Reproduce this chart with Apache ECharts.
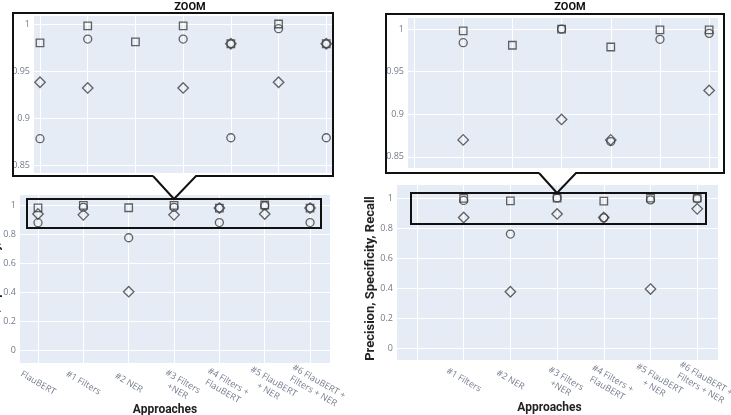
<!DOCTYPE html>
<html>
<head>
<meta charset="utf-8">
<script src="https://cdn.jsdelivr.net/npm/echarts@6/dist/echarts.min.js"></script>
<style>html,body{margin:0;padding:0;background:#fff}#chart{width:731px;height:415px}</style>
</head>
<body>
<div id="chart"></div>
<script>
// ---- data ----
const leftCategories = ['FlauBERT', '#1 Filters', '#2 NER', '#3 Filters\n+NER', '#4 Filters +\nFlauBERT', '#5 FlauBERT\n+ NER', '#6 FlauBERT +\nFilters + NER'];
const rightCategories = ['', '#1 Filters', '#2 NER', '#3 Filters\n+NER', '#4 Filters +\nFlauBERT', '#5 FlauBERT\n+ NER', '#6 FlauBERT +\nFilters + NER'];

const leftSquare  = [0.980, 0.998, 0.981, 0.998, 0.979, 1.000, 0.979];
const leftCircle  = [0.878, 0.984, 0.774, 0.984, 0.879, 0.995, 0.879];
const leftDiamond = [0.938, 0.932, 0.402, 0.932, 0.979, 0.938, 0.979];

const rightSquare  = [null, 0.998, 0.981, 1.000, 0.979, 0.999, 0.999];
const rightCircle  = [null, 0.984, 0.760, 1.000, 0.868, 0.988, 0.995];
const rightDiamond = [null, 0.870, 0.375, 0.894, 0.870, 0.393, 0.928];

const mainYTicks = [0, 0.2, 0.4, 0.6, 0.8, 1];
const zoomYTicks = [0.85, 0.9, 0.95, 1];
const xTickPositions = [0, 1, 2, 3, 4, 5, 6];

const yTitle = 'Precision, Specificity, Recall';
const xTitle = 'Approaches';
const zoomTitle = 'ZOOM';

// ---- styling ----
const TICK_COLOR = '#737b8c';
const BG = '#E5ECF6';
const MARK = '#3d3d3d';

function toPoints(values) {
  return values.map((v, i) => v == null ? null : [i, v]).filter(p => p);
}

function yAxis(gridIndex, min, max, ticks, showName, nameGap) {
  return {
    type: 'value', gridIndex, min, max,
    name: showName ? yTitle : '',
    nameLocation: 'middle', nameGap: nameGap || 20, nameRotate: 90, nameMoveOverlap: false,
    nameTextStyle: { fontFamily: 'Roboto', fontWeight: 'bold', fontSize: 13, color: '#222', padding: [0, 12, 0, 0] },
    axisLine: { show: false },
    axisTick: { show: false, customValues: ticks },
    axisLabel: {
      customValues: ticks, color: TICK_COLOR, fontSize: 9, fontFamily: 'Open Sans', margin: 4,
      formatter: v => String(+(+v).toFixed(2))
    },
    splitLine: { show: true, lineStyle: { color: '#fff', width: 1 } }
  };
}

function xAxis(gridIndex, min, max, cats, showLabels, namePad, nameGap) {
  return {
    type: 'value', gridIndex, min, max,
    name: showLabels ? xTitle : '',
    nameLocation: 'middle', nameGap: nameGap || 40, nameMoveOverlap: false,
    nameTextStyle: { fontFamily: 'Roboto', fontWeight: 'bold', fontSize: 12, color: '#222', padding: [0, namePad || 0, 0, 0] },
    axisLine: { show: false },
    axisTick: { show: false, customValues: xTickPositions },
    axisLabel: {
      show: showLabels, customValues: xTickPositions,
      color: TICK_COLOR, fontSize: 9, fontFamily: 'Open Sans', rotate: -30,
      align: 'center', verticalAlign: 'middle', margin: 20, lineHeight: 11,
      formatter: v => {
        const t = cats[Math.round(v)] || '';
        if (t.indexOf('\n') < 0) return t;
        return t.split('\n').map(s => '{m|' + s + '}').join('\n');
      },
      rich: { m: { color: TICK_COLOR, fontSize: 9, fontFamily: 'Open Sans', lineHeight: 11, padding: [0, 0, 0, 14] } }
    },
    splitLine: { show: true, lineStyle: { color: '#fff', width: 1 } }
  };
}

function scatterSet(xi, yi, sq, ci, di) {
  const common = {
    type: 'scatter', xAxisIndex: xi, yAxisIndex: yi, silent: true,
    emphasis: { disabled: true }, animation: false
  };
  const st = { color: 'rgba(0,0,0,0)', borderColor: MARK, borderWidth: 1.3 };
  return [
    Object.assign({}, common, { name: 'Square', symbol: 'rect', symbolSize: 7.5, itemStyle: st, data: toPoints(sq) }),
    Object.assign({}, common, { name: 'Circle', symbol: 'circle', symbolSize: 8, itemStyle: st, data: toPoints(ci) }),
    Object.assign({}, common, { name: 'Diamond', symbol: 'diamond', symbolSize: 10.5, itemStyle: st, data: toPoints(di) })
  ];
}

const gridBase = { show: true, backgroundColor: BG, borderWidth: 0, containLabel: false, outerBoundsMode: 'none' };

const option = {
  animation: false,
  backgroundColor: '#fff',
  title: [
    { text: zoomTitle, left: 185, top: -3, textAlign: 'center', textStyle: { fontFamily: 'Roboto', fontWeight: 'bold', fontSize: 11, color: '#111' } },
    { text: zoomTitle, left: 565, top: -3, textAlign: 'center', textStyle: { fontFamily: 'Roboto', fontWeight: 'bold', fontSize: 11, color: '#111' } }
  ],
  grid: [
    Object.assign({ left: 20, top: 195, width: 310, height: 168 }, gridBase),
    Object.assign({ left: 34, top: 16, width: 298, height: 157 }, gridBase),
    Object.assign({ left: 397, top: 185, width: 321, height: 175 }, gridBase),
    Object.assign({ left: 408, top: 18, width: 310, height: 150 }, gridBase)
  ],
  xAxis: [
    xAxis(0, -0.397, 6.44, leftCategories, true, 20, 41),
    xAxis(1, -0.126, 6.12, leftCategories, false),
    xAxis(2, -0.428, 6.445, rightCategories, true, 16, 42),
    xAxis(3, -0.122, 6.18, rightCategories, false)
  ],
  yAxis: [
    yAxis(0, -0.09, 1.069, mainYTicks, true, 18),
    yAxis(1, 0.8415, 1.0085, zoomYTicks, false),
    yAxis(2, -0.08, 1.087, mainYTicks, true, 20),
    yAxis(3, 0.837, 1.013, zoomYTicks, false)
  ],
  series: [].concat(
    scatterSet(0, 0, leftSquare, leftCircle, leftDiamond),
    scatterSet(1, 1, leftSquare, leftCircle, leftDiamond),
    scatterSet(2, 2, rightSquare, rightCircle, rightDiamond),
    scatterSet(3, 3, rightSquare, rightCircle, rightDiamond)
  ),
  graphic: [
    { type: 'polyline', z: 100, silent: true,
      shape: { points: [[153,176],[13,176],[13,13],[333,13],[333,176],[196,176],[174,199],[153,176]] },
      style: { stroke: '#111', lineWidth: 2, fill: null } },
    { type: 'rect', z: 100, silent: true, shape: { x: 27, y: 199, width: 294, height: 29 },
      style: { stroke: '#111', lineWidth: 2, fill: null } },
    { type: 'polyline', z: 100, silent: true,
      shape: { points: [[539,173],[386,173],[386,14],[724,14],[724,173],[576,173],[557,193],[539,173]] },
      style: { stroke: '#111', lineWidth: 2, fill: null } },
    { type: 'rect', z: 100, silent: true, shape: { x: 411, y: 193, width: 295, height: 31 },
      style: { stroke: '#111', lineWidth: 2, fill: null } }
  ]
};

const chart = echarts.init(document.getElementById('chart'), null, { renderer: 'canvas' });
chart.setOption(option);
</script>
</body>
</html>
